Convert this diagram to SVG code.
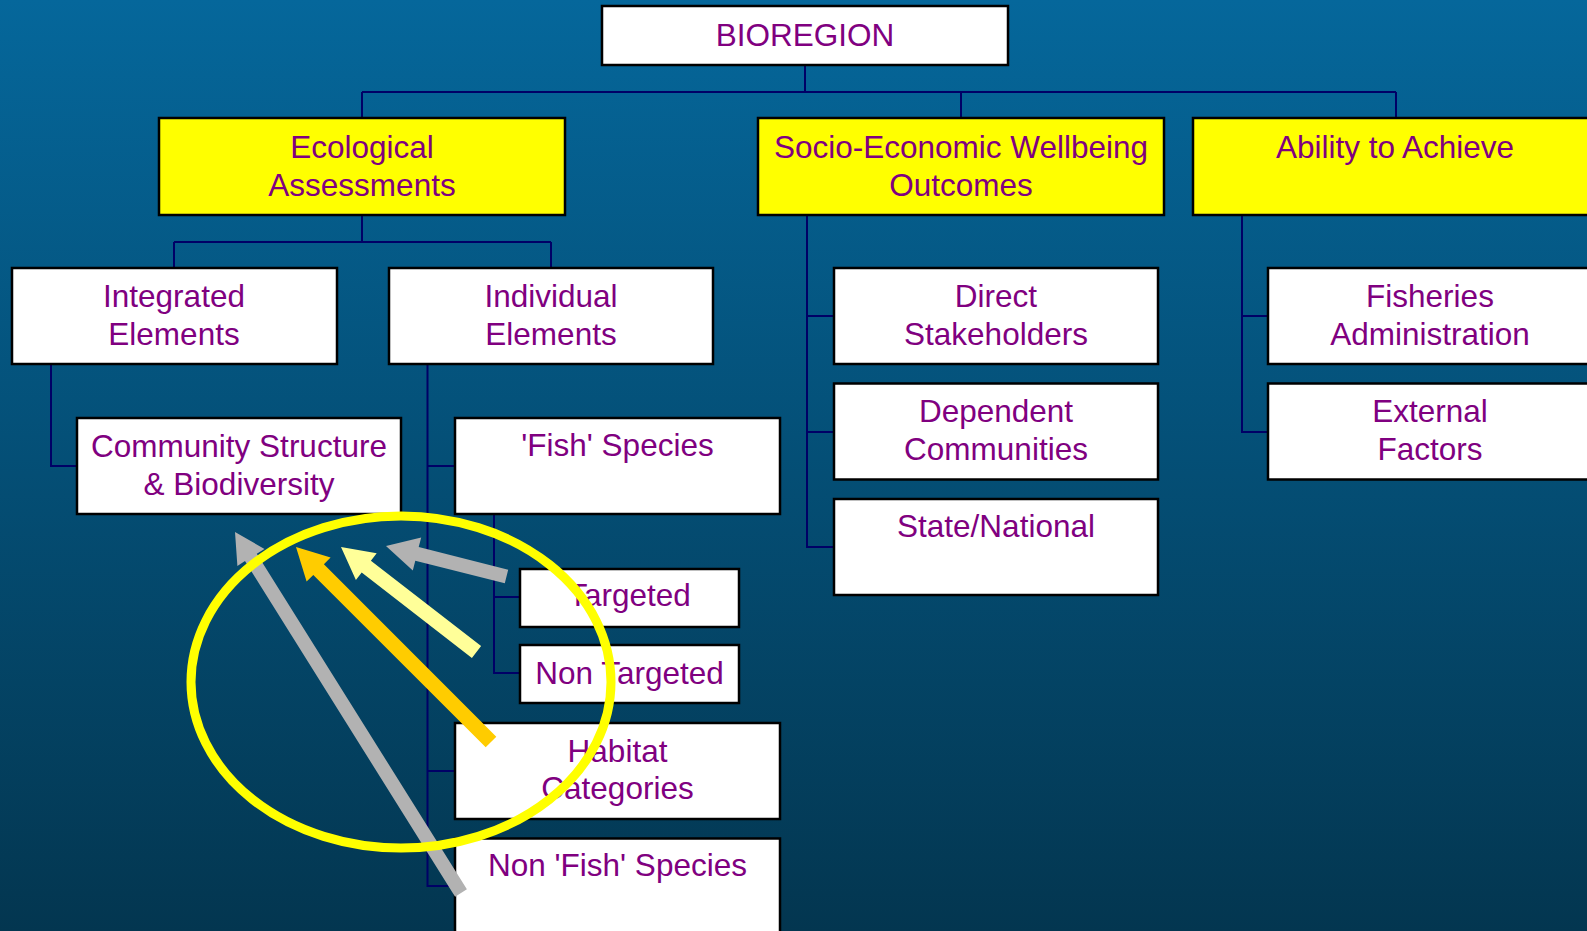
<svg xmlns="http://www.w3.org/2000/svg" width="1587" height="931" viewBox="0 0 1587 931">
<defs>
<linearGradient id="bg" x1="0" y1="0" x2="0" y2="1">
<stop offset="0" stop-color="#05679b"/>
<stop offset="1" stop-color="#033650"/>
</linearGradient>
<style>
.box{fill:#ffffff;stroke:#000000;stroke-width:2.5}
.ybox{fill:#ffff00;stroke:#000000;stroke-width:2.5}
.t{font-family:"Liberation Sans",Arial,sans-serif;font-size:31.5px;fill:#800080;text-anchor:middle}
.con{fill:none;stroke:#000066;stroke-width:2}
</style>
</defs>
<rect x="0" y="0" width="1587" height="931" fill="url(#bg)"/>
<g id="connectors">
<path class="con" d="M805,65V92M362,92H1396M362,92V118M961,92V118M1396,92V118"/>
<path class="con" d="M362,215V242M174,242H551M174,242V268M551,242V268"/>
<path class="con" d="M51,364V466H77"/>
<path class="con" d="M427.5,364V886H455M427.5,466H455M427.5,771H455"/>
<path class="con" d="M494,514V673H520M494,597H520"/>
<path class="con" d="M807,215V547H834M807,316H834M807,432H834"/>
<path class="con" d="M1242,215V432H1268M1242,316H1268"/>
</g>
<g id="bioregion"><rect class="box" x="602" y="6" width="406" height="59"/><text class="t" x="805" y="46">BIOREGION</text></g>
<g id="ecological"><rect class="ybox" x="159" y="118" width="406" height="97"/><text class="t" x="362" y="158">Ecological</text><text class="t" x="362" y="195.5">Assessments</text></g>
<g id="socio"><rect class="ybox" x="758" y="118" width="406" height="97"/><text class="t" x="961" y="158">Socio-Economic Wellbeing</text><text class="t" x="961" y="195.5">Outcomes</text></g>
<g id="ability"><rect class="ybox" x="1193" y="118" width="406" height="97"/><text class="t" x="1395" y="158">Ability to Achieve</text></g>
<g id="integrated"><rect class="box" x="12" y="268" width="325" height="96"/><text class="t" x="174" y="307">Integrated</text><text class="t" x="174" y="344.5">Elements</text></g>
<g id="individual"><rect class="box" x="389" y="268" width="324" height="96"/><text class="t" x="551" y="307">Individual</text><text class="t" x="551" y="344.5">Elements</text></g>
<g id="direct"><rect class="box" x="834" y="268" width="324" height="96"/><text class="t" x="996" y="307">Direct</text><text class="t" x="996" y="344.5">Stakeholders</text></g>
<g id="fisheries"><rect class="box" x="1268" y="268" width="326" height="96"/><text class="t" x="1430" y="307">Fisheries</text><text class="t" x="1430" y="344.5">Administration</text></g>
<g id="dependent"><rect class="box" x="834" y="383.5" width="324" height="96"/><text class="t" x="996" y="422">Dependent</text><text class="t" x="996" y="459.5">Communities</text></g>
<g id="external"><rect class="box" x="1268" y="383.5" width="326" height="96"/><text class="t" x="1430" y="422">External</text><text class="t" x="1430" y="459.5">Factors</text></g>
<g id="state"><rect class="box" x="834" y="499" width="324" height="96"/><text class="t" x="996" y="537">State/National</text></g>
<g id="community"><rect class="box" x="77" y="418" width="324" height="96"/><text class="t" x="239" y="457">Community Structure</text><text class="t" x="239" y="494.5">&amp; Biodiversity</text></g>
<g id="fish"><rect class="box" x="455" y="418" width="325" height="96"/><text class="t" x="617.5" y="456">'Fish' Species</text></g>
<g id="targeted"><rect class="box" x="520" y="569" width="219" height="58"/><text class="t" x="629.5" y="605.5">Targeted</text></g>
<g id="nontargeted"><rect class="box" x="520" y="645" width="219" height="58"/><text class="t" x="629.5" y="683.5">Non Targeted</text></g>
<g id="habitat"><rect class="box" x="455" y="723" width="325" height="96"/><text class="t" x="617.5" y="761.5">Habitat</text><text class="t" x="617.5" y="799">Categories</text></g>
<g id="nonfish"><rect class="box" x="455" y="838.5" width="325" height="100"/><text class="t" x="617.5" y="876">Non 'Fish' Species</text></g>
<g id="arrows">
<polygon fill="#b2b2b2" points="466.9,889.3 256.8,553.7 264.5,548.9 235,532 237.4,565.9 245.0,561.1 455.1,896.7"/>
<polygon fill="#ffcc00" points="496.3,736.7 323.9,564.3 330.6,557.6 296,547 306.6,581.6 313.3,574.9 485.7,747.3"/>
<polygon fill="#ffff99" points="481.1,646.1 370.9,560.7 376.7,553.2 341,547 355.9,580.0 361.7,572.5 471.9,657.9"/>
<polygon fill="#b2b2b2" points="508.2,569.7 418.7,547.1 421.2,537.4 386,546 412.8,570.4 415.3,560.7 504.8,583.3"/>
</g>
<g id="highlight"><ellipse cx="401" cy="682" rx="210" ry="166" fill="none" stroke="#ffff00" stroke-width="9"/></g>
</svg>
